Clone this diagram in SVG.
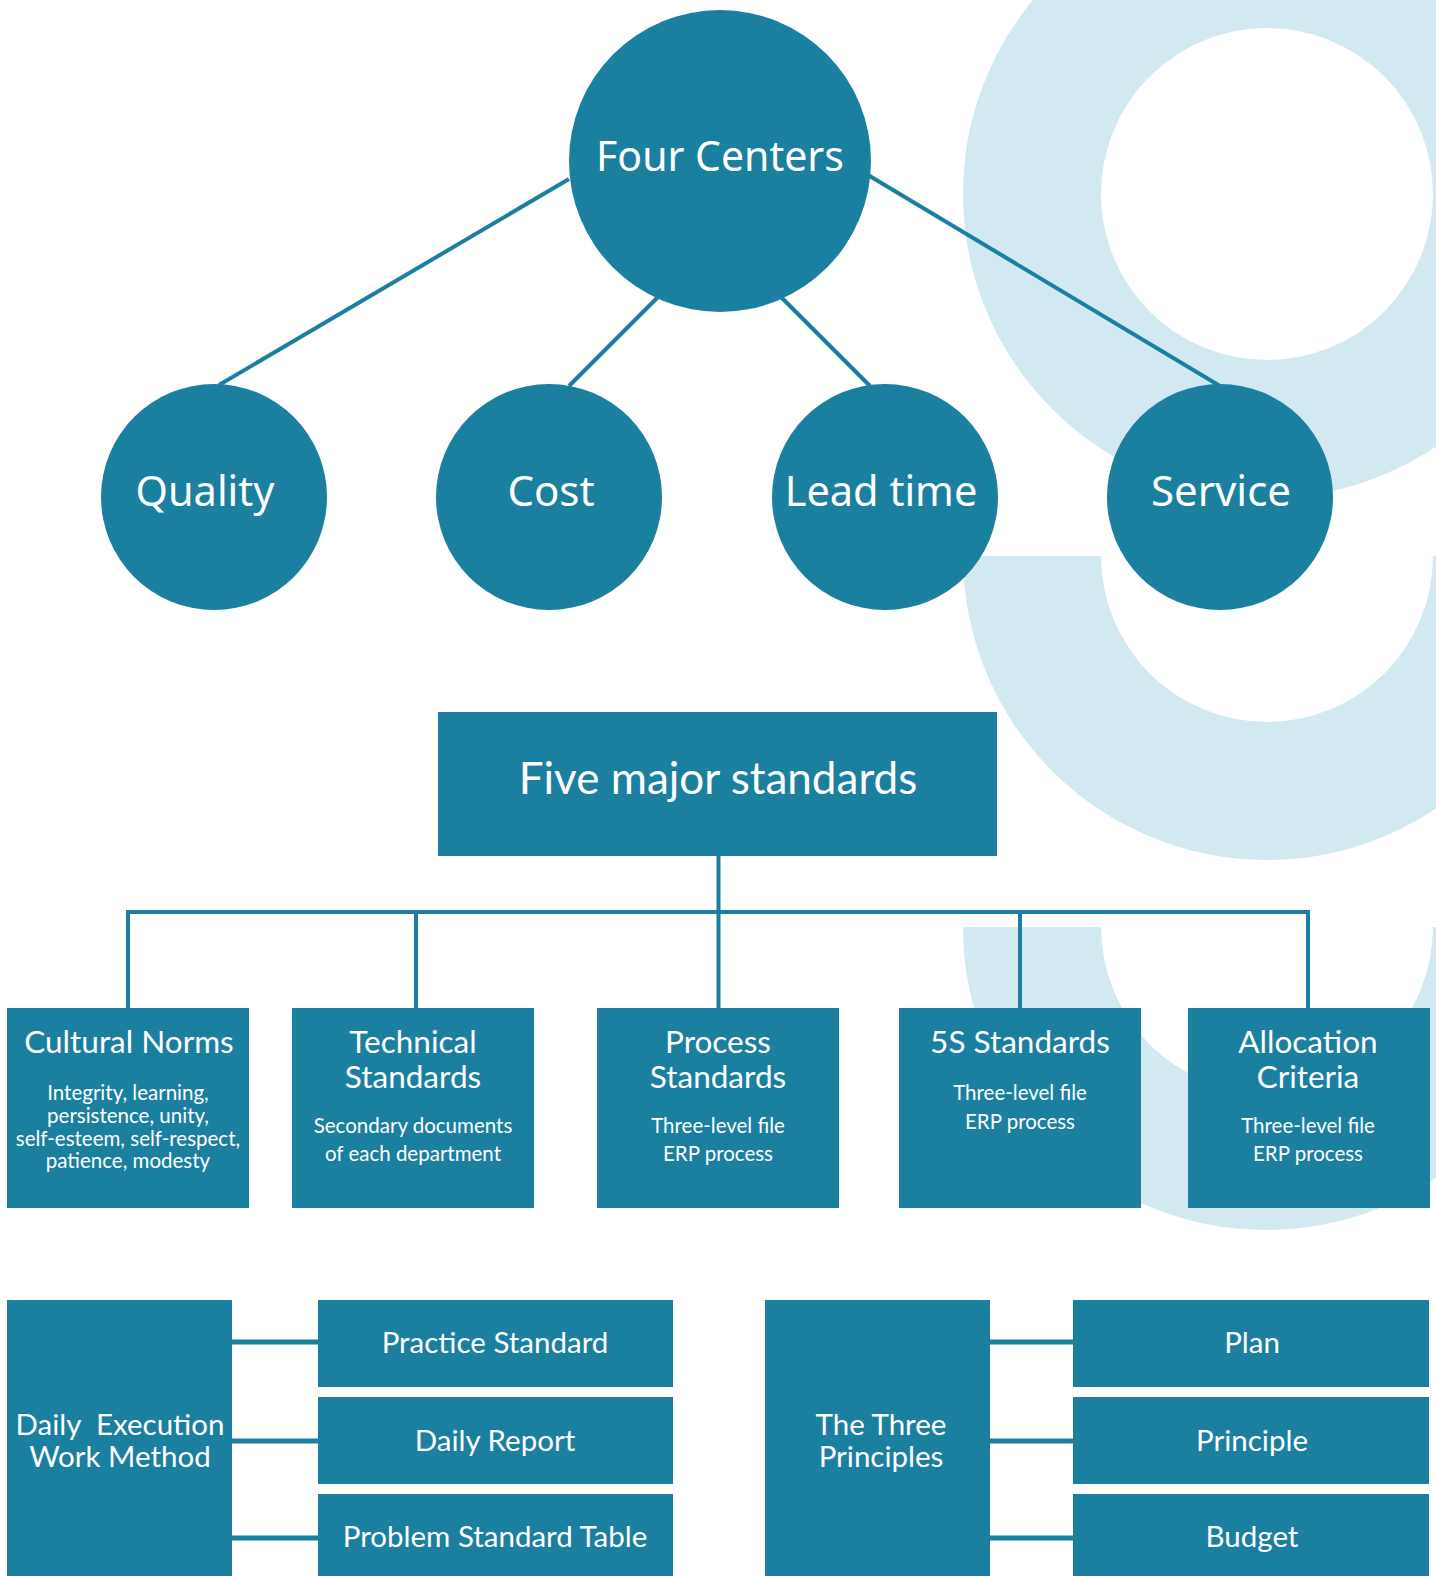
<svg xmlns="http://www.w3.org/2000/svg" width="1436" height="1576" viewBox="0 0 1436 1576">
<style>
.bg{fill:#d2e9f1}
.node{fill:#1b7fa0}
.c{stroke:#1b7fa0;stroke-width:4;fill:none}
.cb{stroke:#1b7fa0;stroke-width:5;fill:none}
text{fill:#ffffff;text-anchor:middle}
.ct{font-family:"Noto Sans","Open Sans",sans-serif}
.st{font-family:Lato,"Noto Sans",sans-serif}
.tt{font-size:31.5px}
.sub{font-size:20.5px}
.bt{font-size:29.5px}
</style>
<rect width="1436" height="1576" fill="#ffffff"/>
<g id="background">
<circle cx="1267" cy="194" r="235" fill="none" stroke="#d2e9f1" stroke-width="138"/>
<path class="bg" d="M963 556 A304 304 0 0 0 1571 556 L1433 556 A166 166 0 0 1 1101 556 Z"/>
<path class="bg" d="M963 927 A303 303 0 0 0 1569 927 L1433 927 A166 166 0 0 1 1101 927 Z"/>
</g>
<g id="connectors">
<line class="c" x1="569" y1="179" x2="219" y2="385"/>
<line class="c" x1="658" y1="297" x2="569" y2="386"/>
<line class="c" x1="781" y1="297" x2="870" y2="386"/>
<line class="c" x1="868" y1="175" x2="1220" y2="386"/>
<line class="c" x1="718.5" y1="856" x2="718.5" y2="1008"/>
<polyline class="c" points="128,1008 128,912 1308,912 1308,1008"/>
<line class="c" x1="416" y1="912" x2="416" y2="1008"/>
<line class="c" x1="1020" y1="912" x2="1020" y2="1008"/>
<line class="cb" x1="232" y1="1342" x2="318" y2="1342"/>
<line class="cb" x1="232" y1="1441" x2="318" y2="1441"/>
<line class="cb" x1="232" y1="1538" x2="318" y2="1538"/>
<line class="cb" x1="990" y1="1342" x2="1073" y2="1342"/>
<line class="cb" x1="990" y1="1441" x2="1073" y2="1441"/>
<line class="cb" x1="990" y1="1538" x2="1073" y2="1538"/>
</g>
<g id="four-centers"><circle class="node" cx="720" cy="161" r="151"/><text class="ct" x="720" y="171" font-size="41">Four Centers</text></g>
<g id="quality"><circle class="node" cx="214" cy="497" r="113"/><text class="ct" x="205" y="506" font-size="41.5">Quality</text></g>
<g id="cost"><circle class="node" cx="549" cy="497" r="113"/><text class="ct" x="551" y="506" font-size="42">Cost</text></g>
<g id="lead-time"><circle class="node" cx="885" cy="497" r="113"/><text class="ct" x="881" y="506" font-size="41.5">Lead time</text></g>
<g id="service"><circle class="node" cx="1220" cy="497" r="113"/><text class="ct" x="1221" y="506" font-size="42">Service</text></g>
<g id="five-major-standards"><rect class="node" x="438" y="712" width="559" height="144"/><text class="st" x="718" y="794" font-size="44">Five major standards</text></g>
<g id="cultural-norms"><rect class="node" x="7" y="1008" width="242" height="200"/>
<text class="st tt" x="129" y="1053">Cultural Norms</text>
<text class="st sub"><tspan x="128" y="1100">Integrity, learning,</tspan><tspan x="128" y="1123">persistence, unity,</tspan><tspan x="128" y="1146">self-esteem, self-respect,</tspan><tspan x="128" y="1168">patience, modesty</tspan></text></g>
<g id="technical-standards"><rect class="node" x="292" y="1008" width="242" height="200"/>
<text class="st tt"><tspan x="413" y="1053">Technical</tspan><tspan x="413" y="1088">Standards</tspan></text>
<text class="st sub"><tspan x="413" y="1133">Secondary documents</tspan><tspan x="413" y="1161">of each department</tspan></text></g>
<g id="process-standards"><rect class="node" x="597" y="1008" width="242" height="200"/>
<text class="st tt"><tspan x="718" y="1053">Process</tspan><tspan x="718" y="1088">Standards</tspan></text>
<text class="st sub"><tspan x="718" y="1133">Three-level file</tspan><tspan x="718" y="1161">ERP process</tspan></text></g>
<g id="5s-standards"><rect class="node" x="899" y="1008" width="242" height="200"/>
<text class="st tt" x="1020" y="1053">5S Standards</text>
<text class="st sub"><tspan x="1020" y="1100">Three-level file</tspan><tspan x="1020" y="1129">ERP process</tspan></text></g>
<g id="allocation-criteria"><rect class="node" x="1188" y="1008" width="242" height="200"/>
<text class="st tt"><tspan x="1308" y="1053">Allocation</tspan><tspan x="1308" y="1088">Criteria</tspan></text>
<text class="st sub"><tspan x="1308" y="1133">Three-level file</tspan><tspan x="1308" y="1161">ERP process</tspan></text></g>
<g id="daily-execution"><rect class="node" x="7" y="1300" width="225" height="290"/>
<text class="st bt"><tspan x="120" y="1435" style="white-space:pre">Daily  Execution</tspan><tspan x="120" y="1467">Work Method</tspan></text></g>
<g id="practice-standard"><rect class="node" x="318" y="1300" width="355" height="87"/><text class="st bt" x="495" y="1353">Practice Standard</text></g>
<g id="daily-report"><rect class="node" x="318" y="1397" width="355" height="87"/><text class="st bt" x="495" y="1451">Daily Report</text></g>
<g id="problem-standard-table"><rect class="node" x="318" y="1494" width="355" height="90"/><text class="st bt" x="495" y="1547">Problem Standard Table</text></g>
<g id="three-principles"><rect class="node" x="765" y="1300" width="225" height="290"/>
<text class="st bt"><tspan x="881" y="1435">The Three</tspan><tspan x="881" y="1467">Principles</tspan></text></g>
<g id="plan"><rect class="node" x="1073" y="1300" width="356" height="87"/><text class="st bt" x="1252" y="1353">Plan</text></g>
<g id="principle"><rect class="node" x="1073" y="1397" width="356" height="87"/><text class="st bt" x="1252" y="1451">Principle</text></g>
<g id="budget"><rect class="node" x="1073" y="1494" width="356" height="90"/><text class="st bt" x="1252" y="1547">Budget</text></g>
</svg>
